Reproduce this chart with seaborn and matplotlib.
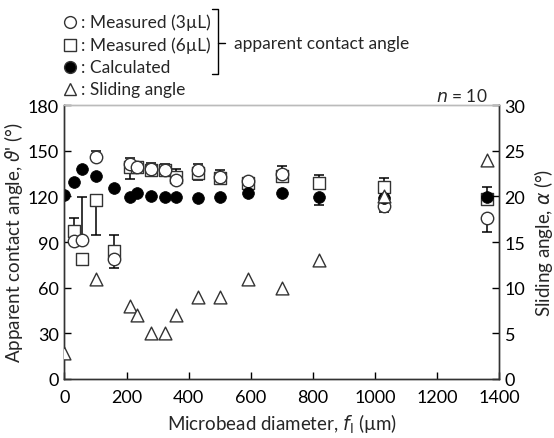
import numpy as np
import matplotlib
matplotlib.use("Agg")
import matplotlib.pyplot as plt
import seaborn as sns
from matplotlib.lines import Line2D

sns.set_theme(style="ticks")
plt.rcParams['font.family'] = ['Lato', 'DejaVu Sans']
plt.rcParams['mathtext.fontset'] = 'dejavusans'

# ---- data ----
diameter = [0, 30, 55, 100, 160, 210, 235, 280, 325, 360, 430, 500, 590, 700, 820, 1030, 1360]

calculated = [121, 129.5, 138, 133.5, 125.5, 119.5, 122, 120, 119.5, 119.5, 119, 119.5, 122, 122, 119.5, 119, 119.5]
calc_err_lo = [0, 0, 0, 0, 0, 0, 0, 0, 0, 0, 0, 0, 0, 0, 5, 0, 0]
calc_err_hi = [0, 0, 0, 0, 0, 0, 0, 0, 0, 0, 0, 0, 0, 0, 0, 0, 6.5]

meas3 = [np.nan, 90.5, 91.3, 145.6, 79, 141, 139, 138, 137.5, 130.5, 137.5, 133, 130, 135, np.nan, 113.5, 106]
meas3_err_lo = [0, 0, 0, 0, 6, 0, 2, 4, 0, 2, 7, 4.5, 2, 0, 0, 4, 9.5]
meas3_err_hi = [0, 0, 28, 4.5, 0, 4.5, 2, 4, 3.5, 0, 3.5, 4.5, 2, 5, 0, 0, 0]

meas6 = [np.nan, 97.5, 79, 117.5, 84, 139, 139, 137.5, 137, 133, 135.5, 132, 128.5, 133.5, 129, 126, 118.5]
meas6_err_lo = [0, 0, 0, 23, 0, 7.5, 2, 0, 0, 0, 0, 0, 0, 0, 0, 0, 0]
meas6_err_hi = [0, 8.5, 0, 0, 10.5, 0, 2, 0, 0, 5, 0, 0, 0, 0, 5, 6, 0]

slide_diameter = [0, 100, 210, 235, 280, 325, 360, 430, 500, 590, 700, 820, 1030, 1360]
slide_angle = [2.8, 11, 8, 7, 5, 5, 7, 9, 9, 11, 10, 13, 20, 24]

fig = plt.figure(figsize=(5.54, 4.39), dpi=100)
ax = fig.add_axes([0.1164, 0.1344, 0.7843, 0.6241])
ax2 = ax.twinx()

eb = dict(fmt='none', ecolor='black', elinewidth=1.1, capsize=3.6, capthick=1.1, zorder=2)
ax.errorbar(diameter, meas6, yerr=[meas6_err_lo, meas6_err_hi], **eb)
ax.errorbar(diameter, meas3, yerr=[meas3_err_lo, meas3_err_hi], **eb)
ax.errorbar(diameter, calculated, yerr=[calc_err_lo, calc_err_hi], **eb)

sns.scatterplot(x=diameter, y=meas6, ax=ax, marker='s', s=75, facecolor='white',
                edgecolor='#333333', linewidth=1.0, zorder=3)
sns.scatterplot(x=diameter, y=meas3, ax=ax, marker='o', s=80, facecolor='white',
                edgecolor='#333333', linewidth=1.0, zorder=4)
sns.scatterplot(x=diameter, y=calculated, ax=ax, marker='o', s=72, color='black',
                edgecolor='black', linewidth=0.5, zorder=5)
sns.scatterplot(x=slide_diameter, y=slide_angle, ax=ax2, marker='^', s=85, facecolor='white',
                edgecolor='#333333', linewidth=1.0, zorder=6)

ax.set_xlim(0, 1400)
ax.set_ylim(0, 180)
ax2.set_ylim(0, 30)
ax.set_xticks(range(0, 1401, 200))
ax.set_yticks(range(0, 181, 30))
ax2.set_yticks(range(0, 31, 5))

for a in (ax, ax2):
    a.tick_params(direction='in', length=5, width=1, labelsize=13, colors='black', pad=4)
    for sp in a.spines.values():
        sp.set_color('#333333')
        sp.set_linewidth(1)
    a.spines['top'].set_color('#bbbbbb')
    a.spines['top'].set_visible(True)
    a.spines['right'].set_visible(True)
ax.tick_params(axis='x', pad=7)

ax.set_xlabel('Microbead diameter, $f_\\mathrm{l}$ (µm)', fontsize=13.5, labelpad=5)
ax.set_ylabel("Apparent contact angle, $\\vartheta$' (°)", fontsize=13.5, labelpad=2)
ax2.set_ylabel('Sliding angle, $\\alpha$ (°)', fontsize=13.5, labelpad=5)

# legend block above the plot
W, H = 554.0, 439.0
rows = [(22.7, 'o', 'white', ': Measured (3µL)'),
        (46.0, 's', 'white', ': Measured (6µL)'),
        (68.0, 'o', 'black', ': Calculated'),
        (90.0, '^', 'white', ': Sliding angle')]
for y, m, fc, label in rows:
    fig.add_artist(Line2D([70 / W], [1 - y / H], marker=m, markersize=8.5, markerfacecolor=fc,
                          markeredgecolor='#333333', markeredgewidth=1.0, linestyle='none',
                          transform=fig.transFigure))
    fig.text(81 / W, 1 - y / H, label, fontsize=12.5, va='center', ha='left')

bx = 218 / W
fig.add_artist(Line2D([212 / W, bx, bx, 212 / W], [1 - 10 / H, 1 - 10 / H, 1 - 75 / H, 1 - 75 / H],
                      color='black', linewidth=1, transform=fig.transFigure))
fig.add_artist(Line2D([bx, 225 / W], [1 - 44 / H, 1 - 44 / H], color='black', linewidth=1,
                      transform=fig.transFigure))
fig.text(234 / W, 1 - 44 / H, 'apparent contact angle', fontsize=12.5, va='center', ha='left')
fig.text(488 / W, 1 - 97 / H, '$n$ = 10', fontsize=12.5, va='center', ha='right')

plt.savefig('out.png', dpi=100)
